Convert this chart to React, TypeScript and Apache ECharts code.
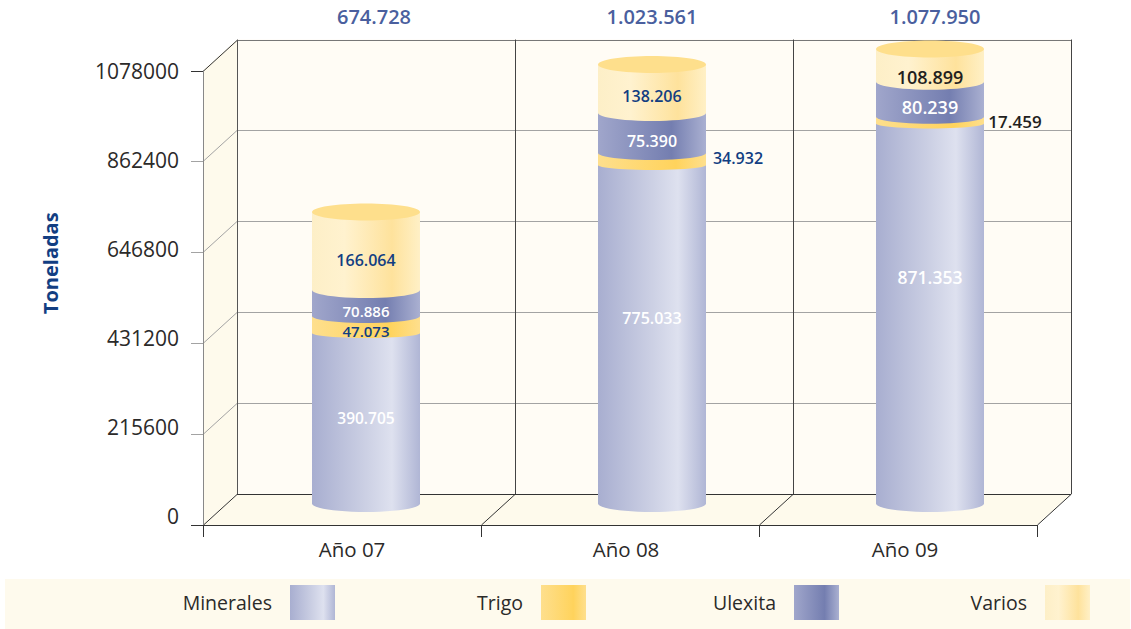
import React, { useEffect, useRef } from "react";
import * as echarts from "echarts";

const categories = ["Año 07", "Año 08", "Año 09"];
const yTicks = [0, 215600, 431200, 646800, 862400, 1078000];
const yMax = 1078000;

// Printed figures
const totalsText = ["674.728", "1.023.561", "1.077.950"];
const mineralesText = ["390.705", "775.033", "871.353"];
const trigoText = ["47.073", "34.932", "17.459"];
const ulexitaText = ["70.886", "75.390", "80.239"];
const variosText = ["166.064", "138.206", "108.899"];

// Drawn segment heights, read against the value axis
const minerales = [404400, 802900, 901300];
const trigo = [40300, 28500, 16100];
const ulexita = [61700, 94900, 83000];
const varios = [185000, 115000, 77600];

const NAVY = "#123e82";
const WHITE = "#ffffff";
const INK = "#231f20";
const FONT = '"Open Sans", "Noto Sans", sans-serif';

const DEPTH_X = 34;
const DEPTH_Y = 31;
const CYL_RX = 54;
const CYL_RY = 8.5;
const CYL_LIFT = 21.5;
const cylShift = [24, 32, 32];
const totalShift = [32, 32, 37];
const yLabelPad = [19, 15, 11, 7, 2, 0];
const xLabelPad = [20, 12, 14];

const grad = (stops: [number, string][]) =>
  new echarts.graphic.LinearGradient(0, 0, 1, 0, stops.map(([offset, color]) => ({ offset, color })));

const fills = {
  Minerales: () => grad([[0, "#a8aed0"], [0.5, "#ccd0e4"], [0.74, "#dee1ef"], [1, "#b0b6d5"]]),
  Trigo: () => grad([[0, "#fedf8d"], [0.72, "#ffd35c"], [1, "#fedf8d"]]),
  Ulexita: () => grad([[0, "#a0a6cb"], [0.68, "#747eb0"], [1, "#aab0d1"]]),
  Varios: () => grad([[0, "#fdefc7"], [0.3, "#fff2cf"], [0.74, "#fee29c"], [1, "#fff0c6"]]),
};

type Lab = { dx: number; dy: number; color: string; weight: number; size: number };
const stack = [
  {
    name: "Minerales", values: minerales, texts: mineralesText, arc: CYL_RY,
    labels: [
      { dx: 0, dy: 0, color: WHITE, weight: 600, size: 15.5 },
      { dx: 0, dy: -16, color: WHITE, weight: 600, size: 16 },
      { dx: 0, dy: -36, color: WHITE, weight: 600, size: 17.5 },
    ] as Lab[],
  },
  {
    name: "Trigo", values: trigo, texts: trigoText, arc: 5,
    labels: [
      { dx: 0, dy: 6, color: NAVY, weight: 600, size: 15 },
      { dx: 86, dy: -1, color: NAVY, weight: 600, size: 16 },
      { dx: 85, dy: 1, color: INK, weight: 600, size: 17 },
    ] as Lab[],
  },
  {
    name: "Ulexita", values: ulexita, texts: ulexitaText, arc: 7,
    labels: [
      { dx: 0, dy: 7.5, color: WHITE, weight: 600, size: 15 },
      { dx: 0, dy: 8, color: WHITE, weight: 600, size: 16 },
      { dx: 0, dy: 8, color: WHITE, weight: 600, size: 18 },
    ] as Lab[],
  },
  {
    name: "Varios", values: varios, texts: variosText, arc: 8,
    labels: [
      { dx: 0, dy: 9, color: NAVY, weight: 600, size: 16 },
      { dx: 0, dy: 7, color: NAVY, weight: 600, size: 16 },
      { dx: 0, dy: 12, color: INK, weight: 600, size: 18 },
    ] as Lab[],
  },
];

const segmentSeries = (si: number) => {
  const s = stack[si];
  const name = s.name as keyof typeof fills;
  return {
    type: "custom",
    name: s.name,
    z: 3,
    itemStyle: { color: fills[name]() },
    encode: { x: 0, y: 1 },
    data: s.values.map((v, i) => [i, v]),
    renderItem: (params: any, api: any) => {
      const i = params.dataIndex;
      let base = 0;
      for (let k = 0; k < si; k++) base += stack[k].values[i];
      const bottom = api.coord([i, base]);
      const top = api.coord([i, base + s.values[i]]);
      const cx = bottom[0] + cylShift[i];
      const yB = bottom[1] - CYL_LIFT;
      const yT = top[1] - CYL_LIFT;
      const pts: number[][] = [[cx - CYL_RX, yT], [cx + CYL_RX, yT]];
      for (let t = 0; t <= 24; t++) {
        const a = (Math.PI * t) / 24;
        pts.push([cx + CYL_RX * Math.cos(a), yB + s.arc * Math.sin(a)]);
      }
      const lab = s.labels[i];
      const children: any[] = [
        { type: "polygon", shape: { points: pts }, style: { fill: fills[name]() } },
      ];
      if (si === stack.length - 1) {
        children.push({
          type: "ellipse",
          shape: { cx, cy: yT, rx: CYL_RX, ry: CYL_RY },
          style: { fill: "#fedf8c" },
        });
      }
      children.push({
        type: "text",
        z2: 20,
        style: {
          text: s.texts[i],
          x: cx + lab.dx,
          y: (yB + yT) / 2 + lab.dy,
          fill: lab.color,
          align: "center",
          verticalAlign: "middle",
          font: `${lab.weight} ${lab.size}px ${FONT}`,
        },
      });
      return { type: "group", children };
    },
  };
};

const frameSeries = {
  type: "custom",
  name: "Marco",
  z: 1,
  silent: true,
  encode: { x: 0, y: 1 },
  data: [[0, 0]],
  renderItem: (params: any, api: any) => {
    const g = params.coordSys;
    const x0 = g.x;
    const x1 = g.x + g.width;
    const yBottom = api.coord([0, 0])[1];
    const yTop = api.coord([0, yMax])[1];
    const band = g.width / categories.length;
    const line = (a: number, b: number, c: number, d: number, stroke: string) => ({
      type: "line",
      shape: { x1: a, y1: b, x2: c, y2: d },
      style: { stroke, lineWidth: 1 },
    });
    const bx0 = x0 + DEPTH_X;
    const bx1 = x1 + DEPTH_X;
    const children: any[] = [
      { type: "rect", shape: { x: bx0, y: yTop - DEPTH_Y, width: g.width, height: yBottom - yTop }, style: { fill: "#fffcf5" } },
      { type: "polygon", shape: { points: [[x0, yTop], [bx0, yTop - DEPTH_Y], [bx0, yBottom - DEPTH_Y], [x0, yBottom]] }, style: { fill: "#fefaec" } },
      { type: "polygon", shape: { points: [[x0, yBottom], [bx0, yBottom - DEPTH_Y], [bx1, yBottom - DEPTH_Y], [x1, yBottom]] }, style: { fill: "#fefaec" } },
    ];
    yTicks.forEach((v) => {
      const y = Math.round(api.coord([0, v])[1]) + 0.5;
      const edge = v === 0 || v === yMax;
      const c = edge ? "#333333" : "#a3a3a3";
      children.push(line(x0 - 12, y, x0, y, c));
      children.push(line(x0, y, bx0, y - DEPTH_Y, c));
      children.push(line(bx0, y - DEPTH_Y, bx1, y - DEPTH_Y, v === yMax ? "#777777" : v === 0 ? "#333333" : "#a3a3a3"));
    });
    for (let i = 0; i <= categories.length; i++) {
      const x = Math.round(x0 + band * i) + 0.5;
      children.push(line(x + DEPTH_X, yTop - DEPTH_Y, x + DEPTH_X, yBottom - DEPTH_Y, i === 0 ? "#555555" : "#444444"));
      if (i > 0) children.push(line(x, yBottom, x + DEPTH_X, yBottom - DEPTH_Y, "#333333"));
    }
    return { type: "group", children };
  },
};

const totalsSeries = {
  type: "custom",
  name: "Total",
  z: 3,
  silent: true,
  encode: { x: 0, y: 1 },
  data: totalsText.map((_, i) => [i, yMax]),
  renderItem: (params: any, api: any) => {
    const i = params.dataIndex;
    const p = api.coord([i, yMax]);
    return {
      type: "text",
      style: {
        text: totalsText[i],
        x: p[0] + totalShift[i],
        y: p[1] - 54.5,
        fill: "#4a5f9e",
        align: "center",
        verticalAlign: "middle",
        font: `600 20px ${FONT}`,
      },
    };
  },
};

const legendRights = [796, 545, 292, 41];

export default function App() {
  const ref = useRef<HTMLDivElement>(null);
  useEffect(() => {
    const chart = echarts.init(ref.current!, undefined, { renderer: "svg" });
    const axisFont = { fontFamily: FONT, color: "#2b2a29", fontSize: 21 };
    const yRich: any = {};
    yLabelPad.forEach((p, i) => {
      yRich["t" + i] = { ...axisFont, padding: [0, 0, p, 0] };
    });
    const xRich: any = {};
    xLabelPad.forEach((p, i) => {
      xRich["t" + i] = { ...axisFont, fontSize: 20.5, padding: [0, 0, 0, p] };
    });
    chart.setOption({
      animation: false,
      backgroundColor: "#ffffff",
      grid: { left: 203, right: 94, top: 70.5, bottom: 104 },
      graphic: [
        { type: "rect", z: -1, shape: { x: 5, y: 579, width: 1125, height: 50 }, style: { fill: "#fefaed" } },
      ],
      xAxis: {
        type: "category",
        data: categories,
        z: 5,
        axisLine: { lineStyle: { color: "#333333", width: 1 } },
        axisTick: { show: true, length: 12, lineStyle: { color: "#333333" } },
        axisLabel: {
          margin: 13,
          interval: 0,
          formatter: (v: string) => `{t${categories.indexOf(v)}|${v}}`,
          rich: xRich,
        },
      },
      yAxis: {
        type: "value",
        min: 0,
        max: yMax,
        interval: 215600,
        z: 5,
        name: "Toneladas",
        nameLocation: "middle",
        nameGap: 143,
        nameRotate: 90,
        nameTextStyle: { color: NAVY, fontFamily: FONT, fontWeight: 700, fontSize: 20, padding: [0, 0, 0, 69] },
        splitLine: { show: false },
        axisTick: { show: false },
        axisLine: { show: true, lineStyle: { color: "#888888", width: 1 } },
        axisLabel: {
          margin: 24,
          formatter: (v: number) => `{t${yTicks.indexOf(v)}|${v}}`,
          rich: yRich,
        },
      },
      legend: stack.map((s, i) => ({
        data: [{ name: s.name, itemStyle: { color: fills[s.name as keyof typeof fills]() } }],
        selectedMode: false,
        icon: "rect",
        orient: "horizontal",
        align: "right",
        right: legendRights[i],
        top: 585,
        padding: 0,
        itemWidth: 45,
        itemHeight: 35,
        textStyle: { fontFamily: FONT, fontSize: 19.5, color: "#2b2a29", padding: [0, 13, 0, 0] },
      })),
      series: [frameSeries, ...stack.map((_, i) => segmentSeries(i)), totalsSeries],
    });
    return () => chart.dispose();
  }, []);
  return <div ref={ref} style={{ position: "fixed", left: 0, top: 0, width: 1131, height: 629 }} />;
}
